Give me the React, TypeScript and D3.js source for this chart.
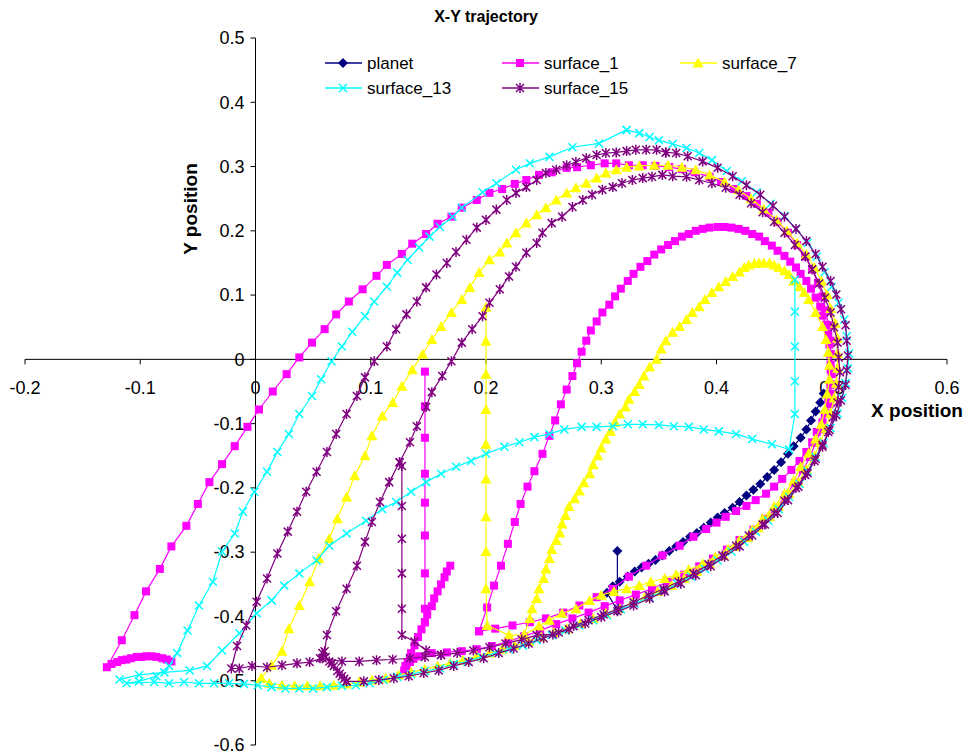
import React from 'react';
import * as d3 from 'd3';

type Pt = [number, number];

// planet (navy diamonds)
const planet: Pt[][] = [[
  [0.314,-0.298],[0.314,-0.391],[0.305,-0.363],[0.310,-0.353],[0.316,-0.346],[0.323,-0.338],[0.329,-0.330],
  [0.335,-0.324],[0.341,-0.318],[0.347,-0.312],[0.353,-0.305],[0.359,-0.298],[0.365,-0.291],[0.371,-0.284],
  [0.377,-0.276],[0.383,-0.270],[0.389,-0.262],[0.395,-0.254],[0.401,-0.246],[0.407,-0.239],[0.414,-0.231],
  [0.420,-0.222],[0.426,-0.212],[0.432,-0.203],[0.438,-0.194],[0.444,-0.183],[0.450,-0.172],[0.456,-0.160],
  [0.462,-0.147],[0.467,-0.135],[0.473,-0.122],[0.478,-0.109],[0.482,-0.095],[0.486,-0.081],[0.490,-0.067],
  [0.493,-0.053],
]];

// surface_1 (magenta squares)
const surface1: Pt[][] = [
  [
    [-0.073,-0.470],[-0.077,-0.467],[-0.081,-0.465],[-0.086,-0.463],[-0.090,-0.462],[-0.095,-0.462],[-0.099,-0.463],
    [-0.103,-0.463],[-0.108,-0.465],[-0.112,-0.467],[-0.116,-0.468],[-0.120,-0.471],[-0.125,-0.474],[-0.129,-0.479],
    [-0.116,-0.437],[-0.105,-0.398],[-0.095,-0.361],[-0.083,-0.326],[-0.073,-0.291],[-0.060,-0.259],[-0.050,-0.225],
    [-0.040,-0.191],[-0.029,-0.163],[-0.018,-0.135],[-0.007,-0.105],[0.003,-0.078],[0.015,-0.050],[0.027,-0.023],
    [0.038,0.003],[0.049,0.026],[0.060,0.047],[0.070,0.070],[0.081,0.090],[0.093,0.109],[0.105,0.130],
    [0.114,0.147],[0.127,0.164],[0.136,0.180],[0.148,0.195],[0.158,0.211],[0.170,0.222],[0.179,0.236],
    [0.192,0.248],[0.203,0.259],[0.214,0.265],[0.225,0.273],[0.235,0.279],[0.246,0.287],[0.257,0.291],
    [0.270,0.298],[0.279,0.299],[0.291,0.302],[0.303,0.305],[0.313,0.305],[0.324,0.302],[0.336,0.302],
    [0.347,0.301],[0.359,0.299],[0.370,0.296],[0.381,0.291],[0.394,0.284],[0.404,0.276],[0.415,0.265],
    [0.426,0.254],[0.435,0.242],[0.445,0.228],[0.453,0.214],[0.462,0.197],[0.470,0.178],[0.477,0.160],
    [0.483,0.140],[0.488,0.119],[0.492,0.098],[0.495,0.076],[0.497,0.053],[0.499,0.029],[0.499,0.008],
    [0.499,-0.016],[0.499,-0.039],[0.497,-0.062],[0.494,-0.085],[0.491,-0.109],[0.486,-0.130],[0.481,-0.152],
    [0.475,-0.172],[0.468,-0.192],[0.460,-0.212],[0.452,-0.231],[0.442,-0.248],[0.432,-0.265],[0.420,-0.281],
    [0.409,-0.296],[0.397,-0.310],[0.385,-0.322],[0.372,-0.335],[0.358,-0.346],[0.344,-0.357],[0.330,-0.366],
    [0.316,-0.375],[0.303,-0.384],[0.289,-0.394],[0.275,-0.403],[0.261,-0.412],[0.247,-0.422],[0.233,-0.431],
    [0.219,-0.439],[0.205,-0.446],[0.192,-0.451],[0.179,-0.454],[0.166,-0.456],[0.153,-0.457],[0.142,-0.462],
    [0.137,-0.466],[0.134,-0.471],[0.131,-0.478],[0.129,-0.484],[0.130,-0.477],[0.132,-0.471],[0.134,-0.464],
    [0.135,-0.457],[0.138,-0.445],[0.141,-0.432],[0.144,-0.420],
    [0.147,-0.409],[0.149,-0.397],[0.153,-0.384],[0.155,-0.372],[0.158,-0.361],[0.161,-0.350],[0.164,-0.339],
    [0.166,-0.330],[0.169,-0.321],
  ],
  [
    [0.147,-0.019],[0.147,-0.073],[0.147,-0.122],[0.147,-0.178],[0.147,-0.223],[0.147,-0.274],[0.147,-0.333],
    [0.147,-0.388],[0.147,-0.409],
  ],
  [
    [0.194,-0.423],[0.208,-0.419],[0.223,-0.414],[0.238,-0.409],[0.252,-0.403],[0.267,-0.394],[0.281,-0.383],
    [0.296,-0.370],[0.310,-0.357],[0.324,-0.338],[0.339,-0.321],[0.353,-0.305],[0.368,-0.290],[0.380,-0.276],
    [0.391,-0.264],[0.400,-0.254],[0.408,-0.245],[0.417,-0.236],[0.426,-0.228],[0.434,-0.219],[0.443,-0.209],
    [0.450,-0.198],[0.457,-0.186],[0.465,-0.172],[0.472,-0.158],[0.478,-0.144],[0.483,-0.129],[0.487,-0.113],
    [0.492,-0.098],[0.495,-0.084],[0.498,-0.070],[0.499,-0.054],[0.500,-0.039],[0.500,-0.023],[0.499,-0.008],
    [0.499,0.008],[0.498,0.023],[0.497,0.039],[0.495,0.054],[0.492,0.068],[0.490,0.082],[0.486,0.096],
    [0.482,0.110],[0.478,0.122],[0.473,0.133],[0.469,0.143],[0.464,0.152],[0.459,0.161],[0.453,0.169],
    [0.448,0.177],[0.442,0.184],[0.437,0.191],[0.431,0.195],[0.425,0.200],[0.419,0.203],[0.413,0.205],
    [0.407,0.206],[0.401,0.206],[0.394,0.205],[0.388,0.203],[0.382,0.200],[0.376,0.195],[0.370,0.191],
    [0.364,0.184],[0.358,0.178],[0.352,0.171],[0.346,0.163],[0.340,0.153],[0.334,0.144],[0.328,0.133],
    [0.323,0.122],[0.317,0.110],[0.312,0.098],[0.307,0.085],[0.301,0.073],[0.296,0.059],[0.291,0.045],
    [0.287,0.029],[0.283,0.012],[0.279,-0.006],[0.275,-0.026],[0.270,-0.047],[0.265,-0.070],[0.260,-0.095],
    [0.255,-0.119],[0.249,-0.147],[0.242,-0.174],[0.236,-0.198],[0.230,-0.225],[0.225,-0.253],[0.219,-0.287],
    [0.213,-0.321],[0.207,-0.352],[0.201,-0.386],[0.194,-0.423],
  ],
];

// surface_7 (yellow triangles)
const surface7: Pt[][] = [
  [
    [0.005,-0.496],[0.012,-0.504],[0.023,-0.507],[0.034,-0.508],[0.045,-0.508],[0.056,-0.508],[0.068,-0.507],
    [0.079,-0.505],[0.090,-0.502],[0.101,-0.499],[0.113,-0.496],[0.124,-0.491],[0.135,-0.487],[0.147,-0.482],
    [0.158,-0.477],[0.169,-0.473],[0.180,-0.468],[0.192,-0.462],[0.203,-0.457],[0.214,-0.451],[0.225,-0.445],
    [0.237,-0.439],[0.248,-0.432],[0.259,-0.425],[0.270,-0.419],[0.282,-0.411],[0.293,-0.403],[0.304,-0.395],
    [0.316,-0.388],[0.327,-0.378],[0.338,-0.370],[0.349,-0.361],[0.361,-0.352],[0.372,-0.341],[0.383,-0.330],
    [0.394,-0.318],[0.406,-0.305],[0.416,-0.291],[0.427,-0.277],[0.436,-0.262],[0.446,-0.245],[0.454,-0.228],
    [0.463,-0.209],[0.471,-0.191],[0.478,-0.171],[0.485,-0.150],[0.490,-0.129],[0.495,-0.107],[0.499,-0.084],
    [0.502,-0.060],[0.504,-0.037],[0.505,-0.014],[0.505,0.009],[0.505,0.033],[0.503,0.056],[0.499,0.079],
    [0.496,0.101],[0.491,0.122],[0.485,0.143],[0.478,0.163],[0.470,0.181],[0.461,0.200],[0.452,0.217],
    [0.441,0.234],[0.430,0.250],[0.419,0.264],[0.407,0.276],[0.394,0.287],[0.382,0.295],[0.370,0.299],
    [0.358,0.302],[0.346,0.302],[0.333,0.301],[0.322,0.299],[0.313,0.295],[0.304,0.290],[0.296,0.282],
    [0.287,0.274],[0.278,0.267],[0.270,0.259],[0.261,0.248],[0.252,0.236],[0.244,0.225],[0.235,0.212],
    [0.226,0.197],[0.218,0.181],[0.212,0.167],[0.203,0.155],[0.194,0.135],[0.186,0.112],[0.179,0.093],
    [0.170,0.073],[0.161,0.051],[0.153,0.031],[0.145,0.008],[0.136,-0.016],[0.127,-0.042],[0.119,-0.067],
    [0.110,-0.088],[0.101,-0.119],[0.095,-0.150],[0.086,-0.181],[0.079,-0.214],[0.071,-0.248],[0.064,-0.279],
    [0.055,-0.310],[0.047,-0.346],[0.038,-0.383],[0.029,-0.419],[0.023,-0.454],[0.014,-0.476],[0.005,-0.496],
  ],
  [
    [0.200,0.081],[0.200,0.028],[0.200,-0.023],[0.200,-0.078],[0.200,-0.132],[0.200,-0.186],[0.200,-0.245],
    [0.200,-0.299],[0.200,-0.357],[0.201,-0.414],[0.220,-0.429],[0.233,-0.429],[0.246,-0.415],[0.255,-0.406],
    [0.266,-0.395],[0.278,-0.388],[0.290,-0.375],[0.300,-0.367],[0.311,-0.361],[0.322,-0.357],[0.333,-0.352],
    [0.343,-0.346],[0.355,-0.341],[0.365,-0.335],[0.376,-0.327],[0.388,-0.318],[0.399,-0.307],[0.410,-0.295],
    [0.420,-0.281],[0.431,-0.265],[0.440,-0.248],[0.450,-0.229],[0.459,-0.209],[0.467,-0.189],[0.473,-0.167],
    [0.480,-0.146],[0.486,-0.124],[0.491,-0.101],[0.494,-0.078],[0.496,-0.054],[0.498,-0.031],[0.498,-0.009],
    [0.497,0.011],[0.495,0.031],[0.492,0.051],[0.486,0.073],[0.480,0.093],[0.476,0.104],[0.472,0.113],
    [0.467,0.122],[0.463,0.132],[0.459,0.138],[0.454,0.143],[0.450,0.147],[0.446,0.150],[0.441,0.150],
    [0.437,0.150],[0.433,0.149],[0.428,0.147],[0.424,0.143],[0.420,0.136],[0.414,0.129],[0.408,0.121],
    [0.402,0.113],[0.396,0.104],[0.390,0.093],[0.385,0.082],[0.379,0.073],[0.374,0.062],[0.368,0.051],
    [0.362,0.042],[0.356,0.029],[0.352,0.016],[0.348,0.000],[0.342,-0.012],[0.337,-0.026],[0.333,-0.039],
    [0.329,-0.050],[0.324,-0.062],[0.321,-0.074],[0.316,-0.085],[0.312,-0.098],[0.308,-0.112],[0.304,-0.124],
    [0.300,-0.138],[0.297,-0.150],[0.293,-0.164],[0.290,-0.178],[0.285,-0.192],[0.281,-0.205],[0.277,-0.217],
    [0.272,-0.229],[0.269,-0.243],[0.266,-0.256],[0.264,-0.270],[0.261,-0.282],[0.257,-0.296],[0.255,-0.310],
    [0.252,-0.326],[0.250,-0.341],[0.246,-0.357],[0.244,-0.372],[0.240,-0.388],[0.238,-0.403],[0.233,-0.429],
  ],
];

// surface_13 (cyan crosses)
const surface13: Pt[][] = [
  [
    [-0.118,-0.498],[-0.101,-0.491],[-0.079,-0.487],[-0.057,-0.484],[-0.042,-0.477],[-0.029,-0.453],[-0.014,-0.426],
    [0.001,-0.395],[0.014,-0.375],[0.025,-0.352],[0.038,-0.333],[0.053,-0.313],[0.064,-0.290],[0.079,-0.271],
    [0.096,-0.251],[0.110,-0.233],[0.122,-0.222],[0.135,-0.206],[0.148,-0.191],[0.161,-0.178],[0.174,-0.167],
    [0.187,-0.158],[0.200,-0.147],[0.216,-0.136],[0.229,-0.129],[0.242,-0.121],[0.255,-0.116],[0.268,-0.109],
    [0.283,-0.105],[0.296,-0.105],[0.310,-0.104],[0.323,-0.101],[0.336,-0.101],[0.350,-0.102],[0.363,-0.104],
    [0.376,-0.105],[0.389,-0.109],[0.402,-0.112],[0.417,-0.116],[0.431,-0.124],[0.448,-0.132],[0.463,-0.140],
    [0.468,-0.085],[0.468,-0.034],[0.468,0.020],[0.468,0.074],[0.468,0.124],
  ],
  [
    [0.322,0.357],[0.298,0.336],[0.275,0.330],[0.255,0.315],[0.238,0.305],[0.226,0.295],[0.209,0.274],
    [0.197,0.260],[0.179,0.236],[0.171,0.222],[0.160,0.206],[0.151,0.191],[0.142,0.174],[0.132,0.155],
    [0.123,0.135],[0.114,0.113],[0.103,0.090],[0.095,0.067],[0.084,0.043],[0.075,0.020],[0.066,-0.003],
    [0.057,-0.031],[0.049,-0.057],[0.038,-0.085],[0.029,-0.116],[0.019,-0.144],[0.010,-0.175],[-0.001,-0.206],
    [-0.011,-0.237],[-0.018,-0.271],[-0.029,-0.299],[-0.037,-0.346],[-0.049,-0.383],[-0.059,-0.422],[-0.068,-0.457],
    [-0.075,-0.477],[-0.086,-0.493],[-0.101,-0.501],[-0.112,-0.504],[-0.088,-0.502],[-0.075,-0.504],[-0.062,-0.502],
    [-0.049,-0.504],[-0.036,-0.504],[-0.023,-0.504],[-0.010,-0.505],[0.002,-0.507],[0.014,-0.510],[0.026,-0.512],
    [0.038,-0.512],[0.050,-0.512],[0.062,-0.510],[0.075,-0.508],[0.087,-0.507],[0.099,-0.504],[0.111,-0.499],
    [0.123,-0.494],[0.135,-0.490],[0.147,-0.485],[0.160,-0.481],[0.172,-0.474],[0.184,-0.470],[0.196,-0.463],
    [0.208,-0.457],[0.220,-0.451],[0.232,-0.445],[0.244,-0.437],[0.257,-0.429],[0.269,-0.422],[0.281,-0.414],
    [0.293,-0.406],[0.305,-0.398],[0.317,-0.389],[0.329,-0.380],[0.342,-0.370],[0.354,-0.360],[0.366,-0.349],
    [0.378,-0.338],[0.390,-0.326],[0.401,-0.313],[0.413,-0.299],[0.424,-0.284],[0.434,-0.268],[0.445,-0.251],
    [0.454,-0.233],[0.463,-0.214],[0.472,-0.194],[0.479,-0.174],[0.486,-0.152],[0.493,-0.130],[0.499,-0.107],
    [0.505,-0.084],[0.509,-0.060],[0.512,-0.037],[0.514,-0.014],[0.515,0.009],[0.513,0.036],[0.511,0.062],
    [0.506,0.088],[0.500,0.113],[0.494,0.136],[0.487,0.160],[0.479,0.181],[0.469,0.203],[0.459,0.223],
    [0.447,0.242],[0.435,0.260],[0.422,0.277],[0.409,0.293],[0.396,0.310],[0.385,0.321],[0.374,0.329],
    [0.362,0.335],[0.350,0.341],[0.342,0.346],[0.333,0.352],[0.322,0.357],
  ],
];

// surface_15 (purple asterisks)
const surface15: Pt[][] = [
  [
    [0.356,0.322],[0.348,0.326],[0.339,0.326],[0.330,0.326],[0.322,0.324],[0.313,0.322],[0.304,0.321],
    [0.296,0.318],[0.287,0.313],[0.278,0.307],[0.270,0.302],[0.261,0.295],[0.252,0.290],[0.244,0.279],
    [0.235,0.268],[0.226,0.259],[0.218,0.248],[0.209,0.233],[0.200,0.217],[0.192,0.205],[0.183,0.186],
    [0.174,0.167],[0.166,0.150],[0.157,0.132],[0.148,0.112],[0.140,0.090],[0.131,0.070],[0.122,0.047],
    [0.114,0.020],[0.103,-0.003],[0.095,-0.028],[0.088,-0.057],[0.079,-0.085],[0.070,-0.116],[0.062,-0.144],
    [0.053,-0.175],[0.044,-0.206],[0.036,-0.237],[0.028,-0.268],[0.019,-0.302],[0.010,-0.341],[0.001,-0.377],
    [-0.008,-0.414],[-0.016,-0.446],[-0.021,-0.481],[-0.014,-0.481],[-0.003,-0.477],[0.010,-0.479],[0.023,-0.476],
    [0.036,-0.473],[0.047,-0.471],[0.058,-0.465],[0.075,-0.470],[0.090,-0.470],[0.105,-0.468],[0.119,-0.467],
    [0.134,-0.465],[0.147,-0.463],[0.161,-0.460],[0.175,-0.457],[0.189,-0.453],[0.203,-0.448],[0.217,-0.442],
    [0.231,-0.436],[0.244,-0.429],[0.258,-0.428],[0.272,-0.420],[0.286,-0.411],[0.300,-0.401],[0.314,-0.392],
    [0.328,-0.383],[0.342,-0.372],[0.355,-0.361],[0.369,-0.349],[0.382,-0.336],[0.395,-0.322],[0.407,-0.307],
    [0.420,-0.291],[0.431,-0.274],[0.442,-0.257],[0.453,-0.239],[0.462,-0.219],[0.471,-0.198],[0.479,-0.177],
    [0.486,-0.155],[0.492,-0.133],[0.498,-0.110],[0.504,-0.087],[0.508,-0.064],[0.512,-0.040],[0.513,-0.017],
    [0.514,0.006],[0.513,0.029],[0.512,0.053],[0.508,0.078],[0.504,0.101],[0.499,0.122],[0.492,0.144],
    [0.486,0.164],[0.478,0.184],[0.469,0.203],[0.459,0.222],[0.449,0.239],[0.438,0.256],[0.426,0.271],
    [0.414,0.285],[0.401,0.298],[0.388,0.308],[0.375,0.316],[0.365,0.321],[0.356,0.322],
  ],
  [
    [0.079,-0.501],[0.077,-0.497],[0.075,-0.493],[0.073,-0.489],[0.071,-0.485],[0.068,-0.477],[0.066,-0.473],
    [0.064,-0.470],[0.061,-0.463],[0.058,-0.457],[0.056,-0.465],[0.060,-0.454],[0.062,-0.429],[0.070,-0.392],
    [0.079,-0.357],[0.088,-0.321],[0.095,-0.284],
    [0.101,-0.253],[0.108,-0.222],[0.116,-0.191],[0.125,-0.160],[0.134,-0.129],[0.140,-0.104],[0.148,-0.074],
    [0.153,-0.051],[0.162,-0.026],[0.170,-0.003],[0.179,0.026],[0.188,0.047],[0.197,0.067],[0.203,0.088],
    [0.212,0.109],[0.220,0.129],[0.226,0.144],[0.235,0.166],[0.244,0.181],[0.249,0.197],[0.257,0.212],
    [0.266,0.222],[0.275,0.237],[0.284,0.248],[0.292,0.256],[0.301,0.264],[0.310,0.268],[0.318,0.274],
    [0.327,0.279],[0.336,0.282],[0.344,0.284],[0.353,0.287],[0.362,0.285],[0.374,0.284],[0.385,0.279],
    [0.396,0.274],[0.408,0.267],[0.420,0.256],[0.430,0.243],[0.440,0.229],[0.450,0.214],[0.459,0.197],
    [0.468,0.178],[0.477,0.160],[0.483,0.140],[0.489,0.118],[0.494,0.096],[0.499,0.073],[0.502,0.050],
    [0.505,0.026],[0.506,0.003],[0.507,-0.020],[0.506,-0.043],[0.505,-0.067],[0.501,-0.090],[0.497,-0.113],
    [0.492,-0.136],[0.485,-0.158],[0.477,-0.180],[0.469,-0.200],[0.459,-0.220],[0.450,-0.239],[0.440,-0.257],
    [0.428,-0.274],[0.417,-0.290],[0.405,-0.305],[0.393,-0.319],[0.380,-0.333],[0.367,-0.346],[0.354,-0.357],
    [0.341,-0.367],[0.328,-0.378],[0.315,-0.388],[0.302,-0.397],[0.289,-0.406],[0.276,-0.415],[0.263,-0.425],
    [0.250,-0.434],[0.237,-0.442],[0.224,-0.450],[0.211,-0.457],[0.198,-0.465],[0.185,-0.471],[0.172,-0.477],
    [0.159,-0.484],[0.146,-0.488],[0.133,-0.493],[0.120,-0.496],[0.107,-0.499],[0.094,-0.501],[0.079,-0.501],
  ],
  [
    [0.125,-0.160],[0.127,-0.166],[0.127,-0.228],[0.127,-0.279],[0.127,-0.333],[0.127,-0.388],[0.127,-0.429],
    [0.138,-0.439],[0.148,-0.453],[0.161,-0.460],
  ],
];

const seriesNames = ['planet', 'surface_1', 'surface_7', 'surface_13', 'surface_15'];
const seriesColors = ['#000080', '#FF00FF', '#FFFF00', '#00FFFF', '#800080'];
const seriesMarkers = ['diamond', 'square', 'triangle', 'x', 'star'];
const seriesData = [planet, surface1, surface7, surface13, surface15];

const xTicks = [-0.2, -0.1, 0, 0.1, 0.2, 0.3, 0.4, 0.5, 0.6];
const yTicks = [-0.6, -0.5, -0.4, -0.3, -0.2, -0.1, 0, 0.1, 0.2, 0.3, 0.4, 0.5];

const W = 972;
const H = 755;
const FONT = 'Arial, "Liberation Sans", sans-serif';

function Marker({ kind, color, x, y }: { kind: string; color: string; x: number; y: number }) {
  const t = `translate(${x},${y})`;
  if (kind === 'diamond') return <path transform={t} d="M0,-5L5,0L0,5L-5,0Z" fill={color} />;
  if (kind === 'square') return <rect x={x - 4} y={y - 4} width={8} height={8} fill={color} />;
  if (kind === 'triangle') return <path transform={t} d="M0,-5.5L5.5,4.5L-5.5,4.5Z" fill={color} />;
  if (kind === 'x')
    return <path transform={t} d="M-4,-4L4,4M-4,4L4,-4" stroke={color} strokeWidth={1.5} fill="none" />;
  return <path transform={t} d="M-4,-4L4,4M-4,4L4,-4M0,-5V5" stroke={color} strokeWidth={1.5} fill="none" />;
}

export default function App() {
  const x = d3.scaleLinear().domain([-0.2, 0.6]).range([25, 947]);
  const y = d3.scaleLinear().domain([-0.6, 0.5]).range([745, 38]);
  const line = d3.line<Pt>().x(d => x(d[0])).y(d => y(d[1]));
  const fmt = (v: number) => (Math.abs(v) < 1e-9 ? '0' : String(+v.toFixed(1)));

  const legendPos = [
    [325, 63], [502, 63], [680, 63], [325, 88], [502, 88],
  ];

  return (
    <div style={{ position: 'absolute', left: 0, top: 0 }}>
      <svg width={W} height={H} style={{ display: 'block', background: '#fff' }} fontFamily={FONT}>
        {/* axes */}
        <line x1={x(-0.2)} x2={x(0.6)} y1={y(0)} y2={y(0)} stroke="#000" strokeWidth={1} />
        <line x1={x(0)} x2={x(0)} y1={y(0.5)} y2={y(-0.6)} stroke="#000" strokeWidth={1} />
        {xTicks.map(t => (
          <g key={'xt' + t}>
            <line x1={x(t)} x2={x(t)} y1={y(0)} y2={y(0) + 5} stroke="#000" />
            <text x={x(t)} y={394} textAnchor="middle" fontSize={18}>{fmt(t)}</text>
          </g>
        ))}
        {yTicks.map(t => (
          <g key={'yt' + t}>
            <line x1={x(0) - 5} x2={x(0)} y1={y(t)} y2={y(t)} stroke="#000" />
            <text x={x(0) - 11} y={y(t)} dy="0.35em" textAnchor="end" fontSize={18}>{fmt(t)}</text>
          </g>
        ))}

        {/* series */}
        {seriesData.map((segs, i) => (
          <g key={seriesNames[i]}>
            {segs.map((seg, j) => (
              <path key={j} d={line(seg) || ''} fill="none" stroke={seriesColors[i]} strokeWidth={1.2} />
            ))}
            {segs.map((seg, j) =>
              seg.map((p, k) => (
                <Marker key={j + '-' + k} kind={seriesMarkers[i]} color={seriesColors[i]} x={x(p[0])} y={y(p[1])} />
              ))
            )}
          </g>
        ))}

        {/* titles */}
        <text x={486} y={22} textAnchor="middle" fontSize={16} fontWeight="bold">X-Y trajectory</text>
        <text x={917} y={417} textAnchor="middle" fontSize={19} fontWeight="bold">X position</text>
        <text transform="translate(197,209) rotate(-90)" textAnchor="middle" fontSize={19} fontWeight="bold">Y position</text>

        {/* legend */}
        {seriesNames.map((n, i) => {
          const [lx, ly] = legendPos[i];
          return (
            <g key={'lg' + n}>
              <line x1={lx} x2={lx + 37} y1={ly} y2={ly} stroke={seriesColors[i]} strokeWidth={1.5} />
              <Marker kind={seriesMarkers[i]} color={seriesColors[i]} x={lx + 18} y={ly} />
              <text x={lx + 42} y={ly} dy="0.35em" fontSize={17}>{n}</text>
            </g>
          );
        })}
      </svg>
    </div>
  );
}
